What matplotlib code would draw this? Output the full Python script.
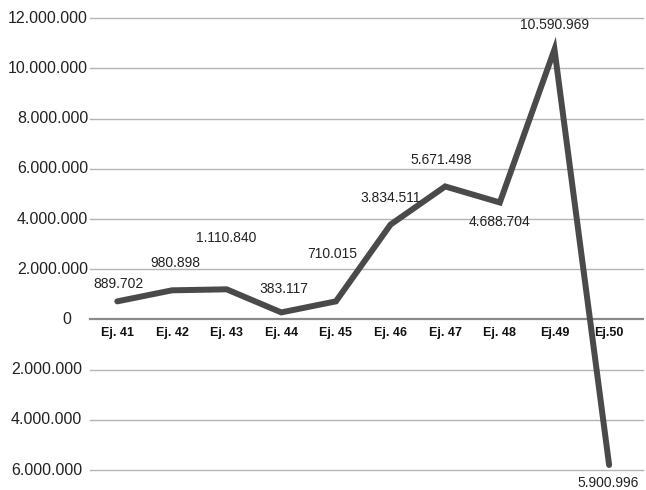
import matplotlib
matplotlib.use("Agg")
import matplotlib.pyplot as plt
from matplotlib.transforms import blended_transform_factory, offset_copy

plt.rcParams['font.family'] = ['Liberation Sans', 'DejaVu Sans']

# data
categories = ["Ej. 41", "Ej. 42", "Ej. 43", "Ej. 44", "Ej. 45",
              "Ej. 46", "Ej. 47", "Ej. 48", "Ej.49", "Ej.50"]
values = [720000, 1160000, 1200000, 280000, 720000,
          3780000, 5300000, 4660000, 10760000, -5800000]
labels = ["889.702", "980.898", "1.110.840", "383.117", "710.015",
          "3.834.511", "5.671.498", "4.688.704", "10.590.969", "5.900.996"]
y_ticks = [12000000, 10000000, 8000000, 6000000, 4000000, 2000000,
           0, -2000000, -4000000, -6000000]
y_tick_labels = ["12.000.000", "10.000.000", "8.000.000", "6.000.000",
                 "4.000.000", "2.000.000", "0", "2.000.000", "4.000.000",
                 "6.000.000"]

# label placement (pixel offsets)
label_offsets = [(1, 17), (3, 27), (0, 51), (3, 23), (-4, 47),
                 (0, 27), (-4, 26), (0, -20), (0, 24), (-1, -18)]
tick_shift = [0, 0, 0, 0, 0, 0, -17, -6, -6, -6]

fig = plt.figure(figsize=(6.46, 4.9), dpi=100)
ax = fig.add_axes([90 / 646, 20 / 490, 553 / 646, 451.7 / 490])

x = list(range(len(categories)))
ax.plot(x, values, color="#4a4a4a", lw=4.3, solid_joinstyle="miter",
        solid_capstyle="round", zorder=3)

for xi, v, lab, (dx, dy) in zip(x, values, labels, label_offsets):
    ax.annotate(lab, (xi, v), xytext=(dx * 0.72, dy * 0.72),
                textcoords="offset points", ha="center", va="center",
                fontsize=10, color="#222222")

for xi, cat in zip(x, categories):
    ax.annotate(cat, (xi, 0), xytext=(0, -10), textcoords="offset points",
                ha="center", va="center", fontsize=9, fontweight="bold",
                color="#111111")

ax.set_xlim(-0.5, 9.62)
ax.set_ylim(-6000000, 12000000)
ax.set_xticks([])
ax.set_yticks([])

trans = blended_transform_factory(ax.transAxes, ax.transData)
for yv, lab, sh in zip(y_ticks, y_tick_labels, tick_shift):
    t = offset_copy(trans, fig=fig, x=(sh - 2) * 0.72, y=0, units="points")
    ax.text(0, yv, lab, transform=t, ha="right", va="center",
            fontsize=11.5, color="#222222", clip_on=False)
    ax.axhline(yv, color="#8a8a8a" if yv == 0 else "#b4b4b4",
               lw=1.6 if yv == 0 else 1.0, zorder=1, clip_on=False)

for s in ax.spines.values():
    s.set_visible(False)

fig.savefig("out.png", dpi=100)
